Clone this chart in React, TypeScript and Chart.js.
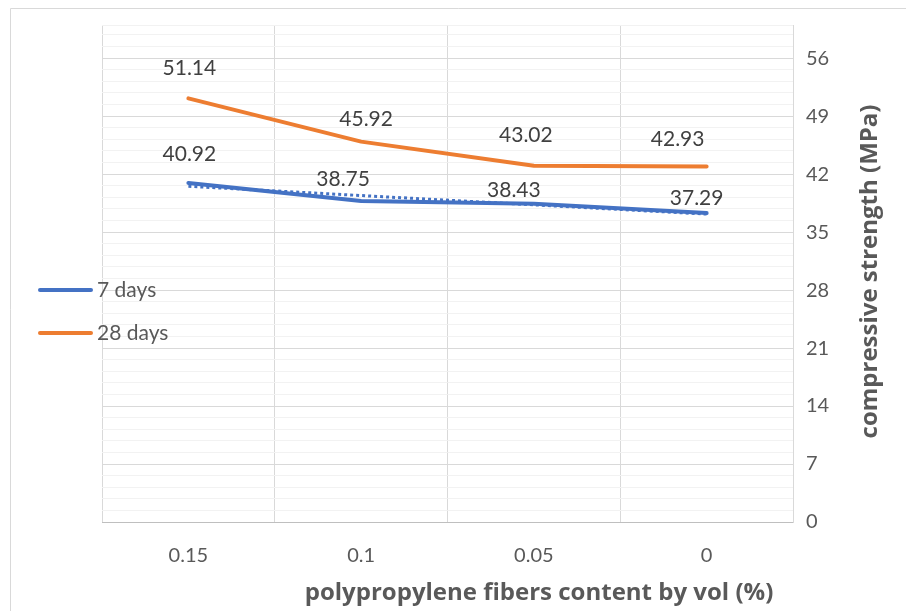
import React, { useEffect, useRef } from "react";
import { Chart, registerables } from "chart.js";

Chart.register(...registerables);

// ---------- data ----------
const categories = ["0.15", "0.1", "0.05", "0"];
const days7 = [40.92, 38.75, 38.43, 37.29];
const days28 = [51.14, 45.92, 43.02, 42.93];
// linear trendline of "7 days"
const trend7 = [40.53, 39.41, 38.29, 37.17];
const seriesNames = ["7 days", "28 days"];
const yMin = 0;
const yMax = 60;
const yMajorStep = 7;
const yMinorStep = 1.4;
const xTitle = "polypropylene fibers content by vol (%)";
const yTitle = "compressive strength (MPa)";

// ---------- style ----------
const FONT = "Lato, 'Open Sans', 'DejaVu Sans', sans-serif";
const TITLE_FONT = "'Open Sans', Lato, 'DejaVu Sans', sans-serif";
const BLUE = "#4472C4";
const ORANGE = "#ED7D31";
const TEXT = "#595959";
const LABEL = "#404040";
const MAJOR_GRID = "#d9d9d9";
const MINOR_GRID = "#f2f2f2";
// data label nudges in px (dx, dy) relative to each point
const nudge7 = [[1, -29], [-18, -22], [-20, -13], [-10, -15]];
const nudge28 = [[1, -30], [5, -22], [-8, -30], [-29, -27]];

const W = 906;
const H = 611;

const isMajor = (v: number) => Math.abs(v / yMajorStep - Math.round(v / yMajorStep)) < 1e-6;

const decorPlugin = {
  id: "decor",
  afterDraw(chart: any) {
    const ctx = chart.ctx as CanvasRenderingContext2D;
    const area = chart.chartArea;
    ctx.save();

    // outer chart border
    ctx.strokeStyle = MAJOR_GRID;
    ctx.lineWidth = 1;
    ctx.beginPath();
    ctx.moveTo(10.5, H);
    ctx.lineTo(10.5, 8.5);
    ctx.lineTo(W, 8.5);
    ctx.stroke();

    // data labels
    ctx.font = `21px ${FONT}`;
    ctx.fillStyle = LABEL;
    ctx.textAlign = "center";
    ctx.textBaseline = "middle";
    const drawLabels = (dsIndex: number, values: number[], nudges: number[][]) => {
      const meta = chart.getDatasetMeta(dsIndex);
      meta.data.forEach((pt: any, i: number) => {
        const [dx, dy] = nudges[i];
        ctx.fillText(values[i].toFixed(2), pt.x + dx, pt.y + dy);
      });
    };
    drawLabels(1, days28, nudge28);
    drawLabels(0, days7, nudge7);

    // legend
    const legendItems = [
      { name: seriesNames[0], color: BLUE, y: 290 },
      { name: seriesNames[1], color: ORANGE, y: 333 },
    ];
    legendItems.forEach((it) => {
      ctx.strokeStyle = it.color;
      ctx.lineWidth = 4;
      ctx.lineCap = "round";
      ctx.beginPath();
      ctx.moveTo(40, it.y);
      ctx.lineTo(91, it.y);
      ctx.stroke();
      ctx.font = `21px ${FONT}`;
      ctx.fillStyle = TEXT;
      ctx.textAlign = "left";
      ctx.textBaseline = "middle";
      ctx.fillText(it.name, 97, it.y);
    });

    // axis titles
    ctx.font = `bold 24px ${TITLE_FONT}`;
    ctx.fillStyle = TEXT;
    ctx.textAlign = "center";
    ctx.textBaseline = "middle";
    ctx.fillText(xTitle, 539, 593);
    ctx.translate(870, (area.top + area.bottom) / 2 - 2);
    ctx.rotate(-Math.PI / 2);
    ctx.fillText(yTitle, 0, 0);
    ctx.restore();
  },
};

export default function App() {
  const ref = useRef<HTMLCanvasElement | null>(null);

  useEffect(() => {
    if (!ref.current) return;
    const chart = new Chart(ref.current, {
      type: "line",
      data: {
        labels: categories,
        datasets: [
          {
            label: seriesNames[0],
            data: days7,
            borderColor: BLUE,
            backgroundColor: BLUE,
            borderWidth: 4,
            pointRadius: 0,
            borderCapStyle: "round",
            borderJoinStyle: "round",
            tension: 0,
            order: 1,
          },
          {
            label: seriesNames[1],
            data: days28,
            borderColor: ORANGE,
            backgroundColor: ORANGE,
            borderWidth: 4,
            pointRadius: 0,
            borderCapStyle: "round",
            borderJoinStyle: "round",
            tension: 0,
            order: 2,
          },
          {
            label: "Linear (7 days)",
            data: trend7,
            borderColor: BLUE,
            borderWidth: 3,
            borderDash: [3, 3],
            pointRadius: 0,
            tension: 0,
            order: 0,
          },
        ],
      },
      options: {
        responsive: false,
        animation: false,
        layout: { padding: { top: 24, left: 102, right: 0, bottom: 0 } },
        plugins: {
          legend: { display: false },
          tooltip: { enabled: false },
          title: { display: false },
        },
        scales: {
          x: {
            type: "category",
            offset: true,
            grid: { offset: true, drawTicks: false, color: MAJOR_GRID, lineWidth: 1 },
            border: { display: true, color: "#bfbfbf" },
            ticks: { padding: 22, color: TEXT, font: { family: FONT, size: 20 }, maxRotation: 0 },
            afterFit: (s: any) => {
              s.height = 89;
            },
          },
          y: {
            type: "linear",
            position: "right",
            min: yMin,
            max: yMax,
            afterBuildTicks: (axis: any) => {
              const t: any[] = [];
              for (let i = 0; i * yMinorStep <= yMax + 1e-9; i++) {
                t.push({ value: +(i * yMinorStep).toFixed(4) });
              }
              if (t[t.length - 1].value < yMax) t.push({ value: yMax });
              axis.ticks = t;
            },
            ticks: {
              autoSkip: false,
              padding: 13,
              color: TEXT,
              font: { family: FONT, size: 20 },
              callback: (v: any) => (isMajor(Number(v)) && Number(v) <= 56 ? String(Math.round(Number(v))) : ""),
            },
            grid: {
              drawTicks: false,
              lineWidth: 1,
              color: (c: any) => (c.tick && isMajor(c.tick.value) && c.tick.value > 0 ? MAJOR_GRID : MINOR_GRID),
            },
            border: { display: true, color: MAJOR_GRID },
            afterFit: (s: any) => {
              s.width = 113;
            },
          },
        },
      },
      plugins: [decorPlugin],
    });
    return () => chart.destroy();
  }, []);

  return (
    <div style={{ position: "fixed", left: 0, top: 0, width: W, height: H, background: "#fff" }}>
      <canvas ref={ref} width={W} height={H} style={{ width: W, height: H, display: "block" }} />
    </div>
  );
}
